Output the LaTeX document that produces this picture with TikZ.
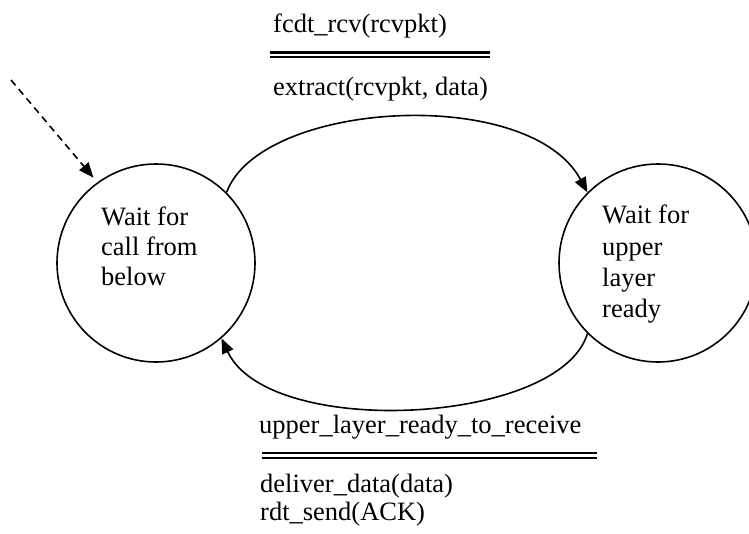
\documentclass[tikz,border=0pt]{standalone}
\usepackage{fontspec}
\setmainfont{Liberation Serif}
\usetikzlibrary{arrows.meta}
\begin{document}
\begin{tikzpicture}[x=1pt,y=-1pt,
  state/.style={circle,draw,line width=1.6pt,minimum size=198pt,inner sep=0pt},
  txt/.style={inner sep=0pt,font=\fontsize{26.5pt}{30.5pt}\selectfont,align=left},
  trans/.style={line width=1.6pt,-{Triangle[length=15pt,width=12pt]}},
  bar/.style={line width=2.2pt}]
\useasboundingbox (0,0) rectangle (749,533);
% states
\node[state] (L) at (156,263) {};
\node[state] (R) at (658,263) {};
\node[txt,anchor=north west,font=\fontsize{26.5pt}{30pt}\selectfont] (Lt) at (101,207) {Wait for\\call from\\below};
\node[txt,anchor=north west,font=\fontsize{26.5pt}{31.3pt}\selectfont] (Rt) at (602,205) {Wait for\\upper\\layer\\ready};
% initial arrow
\coordinate (s) at (11,80);
\draw[line width=1.6pt,dash pattern=on 7pt off 5pt,-{Triangle[length=15pt,width=12pt]},shorten >=6pt] (s) -- (L.126);
% transitions
\draw[trans] (L.45) .. controls +(34,-92) and +(-58,-108) .. (R.135);
\draw[trans] (R.225) .. controls +(-28,92) and +(47,101) .. (L.311);
% top label
\node[txt,anchor=base west] (ev1) at (273,32) {fcdt\_rcv(rcvpkt)};
\draw[bar] (270,52.5) -- (490,52.5);
\draw[bar] (270,57.3) -- (490,57.3);
\node[txt,anchor=base west] (ac1) at (273,95) {extract(rcvpkt, data)};
% bottom label
\node[txt,anchor=base west] (ev2) at (259,433) {upper\_layer\_ready\_to\_receive};
\draw[bar] (262,453.3) -- (597,453.3);
\draw[bar] (262,458.3) -- (597,458.3);
\node[txt,anchor=north west,font=\fontsize{26.5pt}{28.3pt}\selectfont] (ac2) at (260,473.9) {deliver\_data(data)\\rdt\_send(ACK)};
\end{tikzpicture}
\end{document}
